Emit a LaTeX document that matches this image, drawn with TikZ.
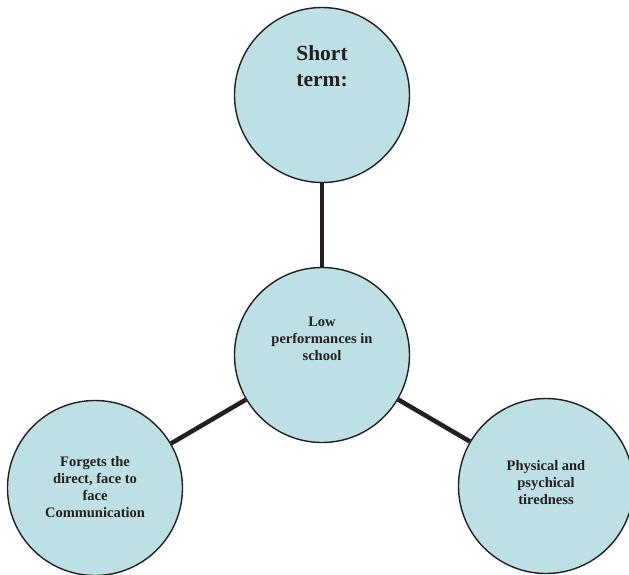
\documentclass[tikz,border=0pt]{standalone}
\usepackage{fontspec}
\setmainfont{Liberation Serif}
\definecolor{bubble}{RGB}{189,224,228}
\definecolor{ink}{RGB}{35,31,32}
\begin{document}
\begin{tikzpicture}[x=1pt,y=-1pt,
  bub/.style={circle,draw=ink,line width=1.4pt,fill=bubble,minimum size=175pt,inner sep=0pt},
  txt/.style={align=center,text=ink,font=\bfseries\fontsize{14.5}{17}\selectfont},
  big/.style={align=center,text=ink,font=\bfseries\fontsize{21.5}{25.5}\selectfont},
  link/.style={draw=ink,line width=4.5pt}]
\useasboundingbox (0,0) rectangle (629,574);
\clip (0,0) rectangle (629,574);
\node[bub] (top) at (322,95) {};
\node[bub] (mid) at (322,355) {};
\node[bub] (left) at (95,488) {};
\node[bub] (right) at (546,486) {};
\draw[link] (mid) -- (top);
\draw[link] (mid) -- (left);
\draw[link] (mid) -- (right);
\node[big] (ttop) at (322,66) {Short\\term:};
\node[txt] (tmid) at (322,339) {Low\\performances in\\school};
\node[txt] (tleft) at (95,487) {Forgets the\\direct, face to\\face\\Communication};
\node[txt] (tright) at (546,483) {Physical and\\psychical\\tiredness};
\end{tikzpicture}
\end{document}
